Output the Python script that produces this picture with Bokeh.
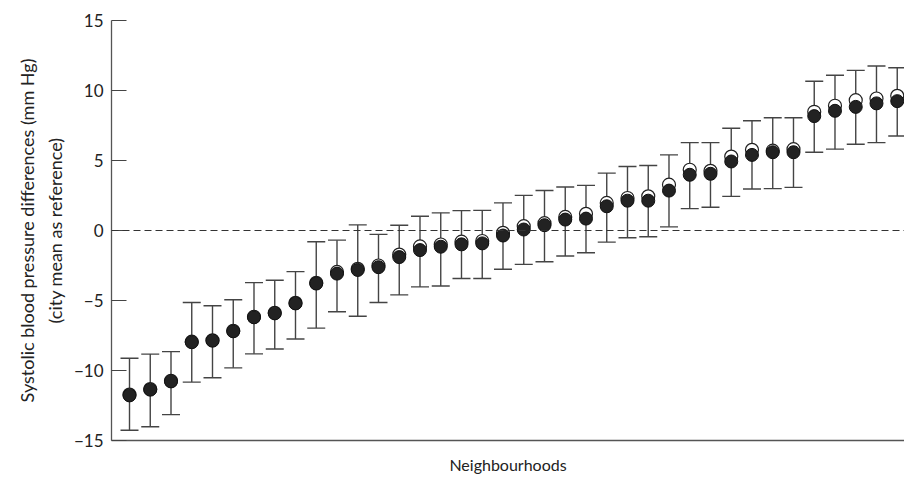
from bokeh.plotting import figure
from bokeh.models import ColumnDataSource, Span, FixedTicker, Range1d
from bokeh.embed import file_html
from bokeh.resources import INLINE

# Neighbourhood estimates (mm Hg, city mean as reference)
neigh_index = list(range(1, 40))
filled_est = [-11.78, -11.37, -10.78, -7.98, -7.87, -7.20, -6.20, -5.92, -5.21, -3.79,
              -3.08, -2.82, -2.62, -1.90, -1.40, -1.16, -0.99, -0.92, -0.36, 0.07,
              0.38, 0.78, 0.85, 1.73, 2.13, 2.13, 2.85, 3.98, 4.05, 4.93,
              5.40, 5.59, 5.59, 8.17, 8.55, 8.83, 9.08, 9.24, 9.43]
open_est = [-11.72, -11.32, -10.74, -7.94, -7.84, -7.16, -6.16, -5.88, -5.17, -3.74,
            -2.96, -2.74, -2.50, -1.72, -1.14, -1.00, -0.80, -0.75, -0.17, 0.31,
            0.52, 0.97, 1.19, 1.97, 2.32, 2.44, 3.27, 4.34, 4.26, 5.28,
            5.76, 5.70, 5.81, 8.48, 8.91, 9.31, 9.43, 9.62, 9.79]
ci_upper = [-9.12, -8.83, -8.65, -5.14, -5.38, -4.95, -3.72, -3.55, -2.94, -0.80,
            -0.69, 0.40, -0.28, 0.38, 1.02, 1.26, 1.42, 1.44, 1.97, 2.51,
            2.86, 3.11, 3.22, 4.10, 4.57, 4.64, 5.40, 6.28, 6.28, 7.30,
            7.84, 8.05, 8.05, 10.66, 11.09, 11.44, 11.75, 11.63, 11.87]
ci_lower = [-14.27, -14.02, -13.15, -10.83, -10.52, -9.81, -8.81, -8.46, -7.75, -6.97,
            -5.80, -6.13, -5.14, -4.60, -4.03, -3.96, -3.43, -3.43, -2.77, -2.42,
            -2.23, -1.82, -1.59, -0.83, -0.52, -0.45, 0.26, 1.56, 1.66, 2.44,
            2.96, 2.99, 3.08, 5.59, 5.81, 6.16, 6.28, 6.75, 6.89]
y_ticks = [-15, -10, -5, 0, 5, 10, 15]
y_tick_labels = ["\u221215", "\u221210", "\u22125", "0", "5", "10", "15"]

src = ColumnDataSource(dict(x=neigh_index, f=filled_est, o=open_est,
                            hi=ci_upper, lo=ci_lower))

FONT = "Lato"
TXT = "#222222"

p = figure(width=904, height=476, output_backend="svg", toolbar_location=None,
           x_range=Range1d(0.1325, 38.35), y_range=Range1d(-15, 15),
           min_border_left=111, min_border_right=0, min_border_top=20,
           min_border_bottom=36)
p.outline_line_color = None
p.xgrid.visible = False
p.ygrid.visible = False
p.background_fill_color = "white"
p.border_fill_color = "white"

# zero reference line
p.add_layout(Span(location=0, dimension="width", line_color="#333333",
                  line_width=1, line_dash="7 4"))

# error bars
p.segment(x0="x", y0="lo", x1="x", y1="hi", source=src,
          line_color="#444444", line_width=1.4)
p.scatter(x="x", y="hi", source=src, marker="dash", size=18,
          line_color="#444444", line_width=1.4)
p.scatter(x="x", y="lo", source=src, marker="dash", size=18,
          line_color="#444444", line_width=1.4)

# open then filled circles
p.scatter(x="x", y="o", source=src, marker="circle", size=13,
          fill_color="white", line_color="#222222", line_width=1.2)
p.scatter(x="x", y="f", source=src, marker="circle", size=13,
          fill_color="#222222", line_color="#111111", line_width=1)

# y axis
ya = p.yaxis[0]
ya.ticker = FixedTicker(ticks=y_ticks)
ya.major_label_overrides = {t: l for t, l in zip(y_ticks, y_tick_labels)}
ya.major_tick_in = 15
ya.major_tick_out = 0
ya.minor_tick_line_color = None
ya.major_tick_line_color = "#444444"
ya.major_tick_line_width = 1.2
ya.axis_line_color = "#555555"
ya.axis_line_width = 1.3
ya.major_label_standoff = 8
ya.major_label_text_font = FONT
ya.major_label_text_font_size = "17px"
ya.major_label_text_color = TXT
ya.axis_label = "Systolic blood pressure differences (mm Hg)\n(city mean as reference)"
ya.axis_label_text_font = FONT
ya.axis_label_text_font_size = "18px"
ya.axis_label_text_font_style = "normal"
ya.axis_label_text_color = TXT
ya.axis_label_text_line_height = 1.25
ya.axis_label_standoff = 5

# x axis
xa = p.xaxis[0]
xa.ticker = FixedTicker(ticks=[])
xa.major_tick_line_color = None
xa.minor_tick_line_color = None
xa.major_label_text_font_size = "0px"
xa.axis_line_color = "#555555"
xa.axis_line_width = 1.3
xa.axis_label = "Neighbourhoods"
xa.axis_label_text_font = FONT
xa.axis_label_text_font_size = "16px"
xa.axis_label_text_font_style = "normal"
xa.axis_label_text_color = TXT
xa.axis_label_standoff = 14

open("out.html", "w").write(file_html(p, INLINE))
